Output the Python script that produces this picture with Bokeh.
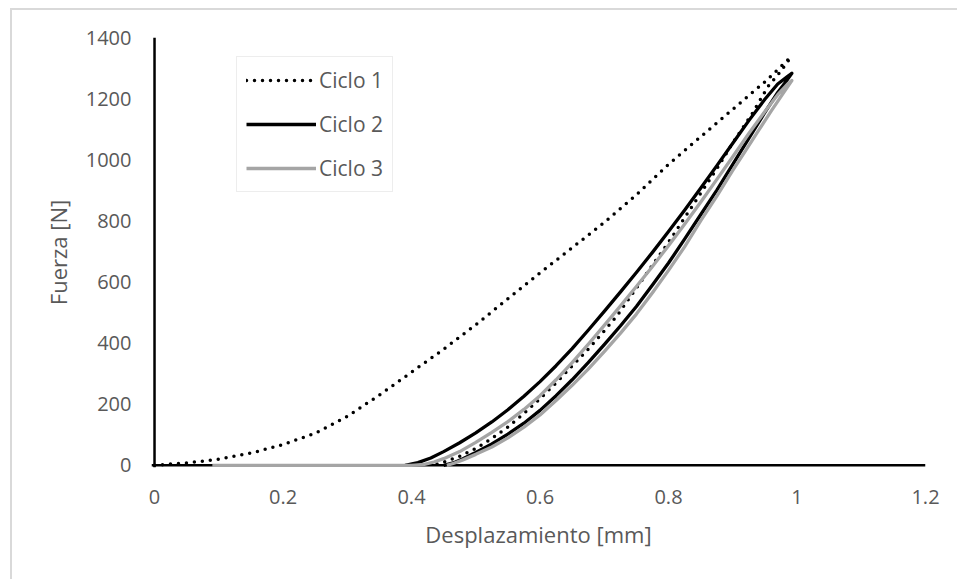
from bokeh.plotting import figure
from bokeh.models import (Range1d, Span, Legend, LegendItem, FixedTicker,
                          NumeralTickFormatter, InlineStyleSheet)
from bokeh.embed import file_html
from bokeh.resources import INLINE

# ---- data ----
x_ticks = [0, 0.2, 0.4, 0.6, 0.8, 1.0, 1.2]
y_ticks = [0, 200, 400, 600, 800, 1000, 1200, 1400]
series_names = ["Ciclo 1", "Ciclo 2", "Ciclo 3"]

# Ciclo 1: loading then unloading
c1_load_x = [0.0, 0.03, 0.05, 0.10, 0.15, 0.20, 0.25, 0.30, 0.35, 0.40, 0.45, 0.50, 0.55, 0.60,
             0.65, 0.70, 0.75, 0.80, 0.85, 0.90, 0.95, 0.99]
c1_load_y = [0, 5, 8, 20, 40, 68, 105, 160, 230, 305, 380, 460, 545, 630,
             712, 795, 885, 985, 1075, 1165, 1255, 1335]
c1_unload_x = [0.975, 0.955, 0.930, 0.900, 0.875, 0.850, 0.825, 0.800, 0.775, 0.750, 0.720,
               0.700, 0.675, 0.650, 0.625, 0.600, 0.575, 0.550, 0.525, 0.500, 0.475, 0.455,
               0.440, 0.430]
c1_unload_y = [1290, 1240, 1150, 1055, 970, 890, 810, 730, 655, 580, 490,
               440, 380, 325, 270, 218, 170, 125, 88, 55, 30, 14,
               5, 0]

# Ciclo 2
c2_load_x = [0.390, 0.410, 0.430, 0.450, 0.475, 0.500, 0.525, 0.550, 0.575, 0.600, 0.625,
             0.650, 0.675, 0.700, 0.725, 0.750, 0.775, 0.800, 0.825, 0.850, 0.875, 0.900,
             0.925, 0.950, 0.970, 0.985, 0.992]
c2_load_y = [0, 9, 24, 45, 74, 106, 142, 182, 226, 274, 326,
             382, 442, 504, 567, 631, 697, 765, 835, 907, 980, 1054,
             1128, 1198, 1248, 1272, 1283]
c2_unload_x = [0.985, 0.970, 0.950, 0.925, 0.900, 0.875, 0.850, 0.825, 0.800, 0.775, 0.750,
               0.725, 0.700, 0.675, 0.650, 0.625, 0.600, 0.575, 0.550, 0.525, 0.500, 0.480,
               0.465, 0.450]
c2_unload_y = [1262, 1220, 1155, 1070, 985, 900, 820, 740, 662, 590, 520,
               456, 395, 336, 280, 228, 180, 138, 102, 70, 42, 22,
               8, 0]

# Ciclo 3
c3_load_x = [0.090, 0.200, 0.300, 0.400, 0.420, 0.435, 0.450, 0.475, 0.500, 0.525, 0.550,
             0.575, 0.600, 0.625, 0.650, 0.675, 0.700, 0.725, 0.750, 0.775, 0.800, 0.825,
             0.850, 0.875, 0.900, 0.925, 0.950, 0.970, 0.985, 0.992]
c3_load_y = [0, 0, 0, 0, 3, 11, 22, 45, 75, 108, 143,
             183, 228, 280, 336, 396, 458, 521, 585, 651, 719, 789,
             861, 935, 1010, 1086, 1158, 1213, 1247, 1259]
c3_unload_x = [0.980, 0.960, 0.940, 0.920, 0.900, 0.875, 0.850, 0.825, 0.800, 0.775, 0.750,
               0.725, 0.700, 0.675, 0.650, 0.625, 0.600, 0.575, 0.550, 0.525, 0.500, 0.480,
               0.466, 0.455]
c3_unload_y = [1222, 1160, 1095, 1030, 965, 880, 800, 715, 638, 565, 495,
               432, 372, 315, 262, 212, 165, 125, 90, 60, 36, 18,
               7, 0]

c1_x = c1_load_x + c1_unload_x
c1_y = c1_load_y + c1_unload_y
c2_x = c2_load_x + c2_unload_x
c2_y = c2_load_y + c2_unload_y
c3_x = c3_load_x + c3_unload_x
c3_y = c3_load_y + c3_unload_y

FONT = "Open Sans"
TXT = "#595959"

# light chart-area frame: only its left and top edges fall inside the picture
border_css = """
:host { position: relative; overflow: hidden; }
:host::after {
  content: '';
  position: absolute;
  left: 10px; top: 8px;
  width: 2000px; height: 2000px;
  border-left: 2px solid #d9d9d9;
  border-top: 2px solid #d9d9d9;
  pointer-events: none;
}
"""

p = figure(width=957, height=579, output_backend="svg", toolbar_location=None,
           x_range=Range1d(-0.0047, 1.2), y_range=Range1d(-7, 1400),
           min_border_left=151, min_border_right=32, min_border_top=37, min_border_bottom=112,
           stylesheets=[InlineStyleSheet(css=border_css)])
p.background_fill_color = "white"
p.border_fill_color = "white"
p.outline_line_color = None
p.grid.visible = False

for ax in (p.xaxis[0], p.yaxis[0]):
    ax.axis_line_color = None
    ax.major_tick_line_color = None
    ax.minor_tick_line_color = None
    ax.major_tick_out = 0
    ax.major_tick_in = 0
    ax.major_label_text_font = FONT
    ax.major_label_text_font_size = "20px"
    ax.major_label_text_color = TXT
    ax.axis_label_text_font = FONT
    ax.axis_label_text_font_size = "22px"
    ax.axis_label_text_font_style = "normal"
    ax.axis_label_text_color = TXT

p.xaxis.ticker = FixedTicker(ticks=x_ticks)
p.yaxis.ticker = FixedTicker(ticks=y_ticks)
p.xaxis.formatter = NumeralTickFormatter(format="0.[0]")
p.yaxis.formatter = NumeralTickFormatter(format="0")
p.xaxis.axis_label = "Desplazamiento [mm]"
p.yaxis.axis_label = "Fuerza [N]"
p.xaxis.major_label_standoff = 22
p.yaxis.major_label_standoff = 20
p.xaxis.axis_label_standoff = 12
p.yaxis.axis_label_standoff = 10

# axis lines
p.add_layout(Span(location=0, dimension="width", line_color="black", line_width=2.5, level="underlay"))
p.add_layout(Span(location=0, dimension="height", line_color="black", line_width=2.5, level="underlay"))

r1 = p.line(c1_x, c1_y, line_color="black", line_width=3.5, line_dash="0 8", line_cap="round", line_join="round")
r2 = p.line(c2_x, c2_y, line_color="black", line_width=3.3, line_join="round")
r3 = p.line(c3_x, c3_y, line_color="#a5a5a5", line_width=3.3, line_join="round")

legend = Legend(items=[LegendItem(label=series_names[0], renderers=[r1]),
                       LegendItem(label=series_names[1], renderers=[r2]),
                       LegendItem(label=series_names[2], renderers=[r3])],
                location=(85, 275), orientation="vertical")
legend.glyph_width = 70
legend.glyph_height = 20
legend.label_height = 20
legend.label_standoff = 3
legend.spacing = 16
legend.padding = 9
legend.margin = 0
legend.label_text_font = FONT
legend.label_text_font_size = "21px"
legend.label_text_color = TXT
legend.border_line_color = "#dcdcdc"
legend.border_line_width = 1
legend.background_fill_color = "white"
p.add_layout(legend)

open("out.html", "w").write(file_html(p, INLINE))
